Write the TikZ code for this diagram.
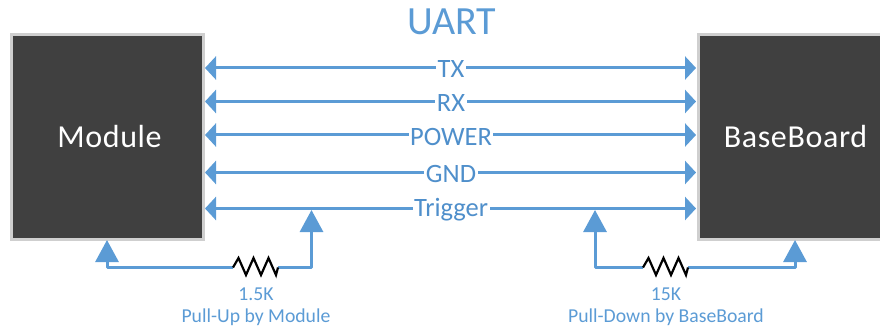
\documentclass[tikz,border=0pt]{standalone}
\usepackage{fontspec}
\setmainfont{Carlito}
\usetikzlibrary{arrows.meta}
\definecolor{wireblue}{HTML}{5B9BD5}
\definecolor{labelblue}{HTML}{4F8FCB}
\definecolor{boxdark}{HTML}{404040}
\definecolor{boxedge}{HTML}{CFCFCF}
\tikzset{
  x=1pt,y=-1pt,
  hostbox/.style={draw=boxedge,line width=3pt,fill=boxdark,text=white,inner sep=0pt,font=\fontsize{32}{34}\selectfont\addfontfeature{LetterSpace=2}},
  buswire/.style={wireblue,line width=3pt,{Triangle[length=11pt,width=23pt]}-{Triangle[length=11pt,width=23pt]},shorten <=0pt,shorten >=0pt},
  buslabel/.style={fill=white,text=labelblue,inner xsep=1.5pt,inner ysep=0pt,font=\fontsize{26.5}{29}\selectfont},
  pullwire/.style={wireblue,line width=3pt,line join=round},
  pullarrow/.style={pullwire,-{Triangle[length=22pt,width=23pt]}},
  resistorzig/.style={black,line width=2.2pt,line join=miter},
  smalllabel/.style={text=wireblue,inner sep=0pt,font=\fontsize{19.7}{21}\selectfont},
}
\begin{document}
\begin{tikzpicture}
\useasboundingbox (0,0) rectangle (880,331);
\node[hostbox,minimum width=192pt,minimum height=204pt,text width=192pt,align=center] (module) at (107.5,137) {\hspace*{4pt}\raisebox{-1.5pt}{Module}};
\node[hostbox,minimum width=194pt,minimum height=204pt] (base) at (795.5,137) {\raisebox{-1.5pt}{BaseBoard}};
\node[text=wireblue,inner sep=0pt,font=\fontsize{40}{44}\selectfont] (title) at (452,22) {UART};
% bus anchors
\coordinate (tl) at (205,68);  \coordinate (tr) at (696,68);
\coordinate (rl) at (205,101.5); \coordinate (rr) at (696,101.5);
\coordinate (pl) at (205,135); \coordinate (pr) at (696,135);
\coordinate (gl) at (205,172.5); \coordinate (gr) at (696,172.5);
\coordinate (xl) at (205,208.5); \coordinate (xr) at (696,208.5);
\draw[buswire] (tl) -- (tr);
\draw[buswire] (rl) -- (rr);
\draw[buswire] (pl) -- (pr);
\draw[buswire] (gl) -- (gr);
\draw[buswire] (xl) -- (xr);
\node[buslabel] (ltx) at (451,69.5) {TX};
\node[buslabel] (lrx) at (451,103) {RX};
\node[buslabel] (lpw) at (451,136.5) {POWER};
\node[buslabel] (lgn) at (451,174) {GND};
\node[buslabel] (ltr) at (451,210) {Trigger};
% left pull-up
\coordinate (m1) at (107,240);
\coordinate (m2) at (311.5,210);
\coordinate (r1a) at (233,267.5);
\coordinate (r1b) at (278,267.5);
\draw[pullarrow] (r1a) -| (m1);
\draw[pullarrow] (r1b) -| (m2);
\draw[resistorzig] (r1a) -- ++(5.5,-9.5) -- ++(7.5,17) -- ++(7.5,-17) -- ++(7.5,17) -- ++(7.5,-17) -- ++(7.5,17) -- (r1b);
\node[smalllabel] (r1v) at (256,294) {1.5K};
\node[smalllabel] (r1t) at (256,317) {Pull-Up by Module};
% right pull-down
\coordinate (b1) at (595,210);
\coordinate (b2) at (795,240);
\coordinate (r2a) at (643,267.5);
\coordinate (r2b) at (688,267.5);
\draw[pullarrow] (r2a) -| (b1);
\draw[pullarrow] (r2b) -| (b2);
\draw[resistorzig] (r2a) -- ++(5.5,-9.5) -- ++(7.5,17) -- ++(7.5,-17) -- ++(7.5,17) -- ++(7.5,-17) -- ++(7.5,17) -- (r2b);
\node[smalllabel] (r2v) at (666,294) {15K};
\node[smalllabel] (r2t) at (666,317) {Pull-Down by BaseBoard};
\end{tikzpicture}
\end{document}
